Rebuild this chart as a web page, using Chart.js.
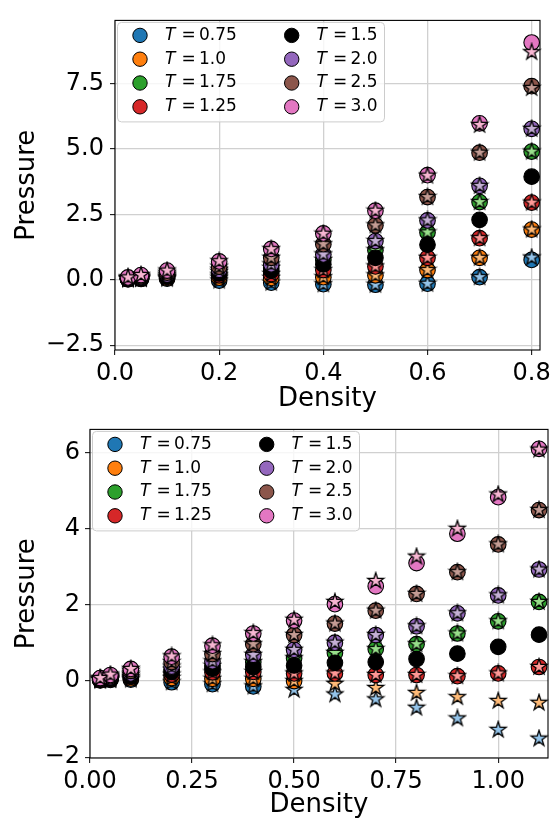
<!DOCTYPE html>
<html>
<head>
<meta charset="utf-8">
<script src="https://cdn.jsdelivr.net/npm/chart.js@4.4.1/dist/chart.umd.min.js"></script>
<style>
html, body { margin: 0; padding: 0; background: #fff; }
#wrap { position: relative; width: 557px; height: 821px; overflow: hidden; }
.pane { position: absolute; left: 0; width: 557px; }
</style>
</head>
<body>
<div id="wrap">
  <div class="pane" style="top:0;height:412px"><canvas id="grafica-superior" width="557" height="412"></canvas></div>
  <div class="pane" style="top:410px;height:411px"><canvas id="grafica-inferior" width="557" height="411"></canvas></div>
</div>
<script>
// temperatures, in the order they were plotted (legend goes column by column)
var temps = ['0.75', '1.0', '1.75', '1.25', '1.5', '2.0', '2.5', '3.0'];

// ---- upper panel ----
var topDensity = [0.025, 0.05, 0.1, 0.2, 0.3, 0.4, 0.5, 0.6, 0.7, 0.8];
// circles
var topSim075 = [0.02, 0.03, 0.04, -0.03, -0.11, -0.17, -0.19, -0.15, 0.10, 0.76];
var topSim100 = [0.025, 0.045, 0.07, 0.08, 0.07, 0.10, 0.17, 0.37, 0.84, 1.92];
var topSim175 = [0.045, 0.08, 0.16, 0.30, 0.45, 0.76, 1.13, 1.81, 2.97, 4.90];
var topSim125 = [0.03, 0.06, 0.11, 0.17, 0.22, 0.37, 0.51, 0.84, 1.59, 2.95];
var topSim150 = [0.04, 0.07, 0.13, 0.24, 0.35, 0.59, 0.84, 1.34, 2.29, 3.94];
var topSim200 = [0.05, 0.10, 0.20, 0.38, 0.59, 0.97, 1.48, 2.27, 3.59, 5.77];
var topSim250 = [0.065, 0.13, 0.27, 0.50, 0.84, 1.36, 2.08, 3.16, 4.86, 7.40];
var topSim300 = [0.09, 0.18, 0.35, 0.70, 1.18, 1.77, 2.64, 4.00, 5.98, 9.07];
// stars
var topFit075 = [0.02, 0.03, 0.04, -0.03, -0.11, -0.17, -0.19, -0.15, 0.10, 0.85];
var topFit250 = [0.065, 0.13, 0.27, 0.50, 0.84, 1.36, 2.08, 3.16, 4.86, 7.33];
var topFit300 = [0.09, 0.18, 0.35, 0.71, 1.17, 1.76, 2.64, 3.98, 5.92, 8.70];

var topXTicks = [0, 0.2, 0.4, 0.6, 0.8];
var topXLabels = ['0.0', '0.2', '0.4', '0.6', '0.8'];
var topYTicks = [-2.5, 0, 2.5, 5, 7.5];
var topYLabels = ['\u22122.5', '0.0', '2.5', '5.0', '7.5'];

// ---- lower panel ----
var botDensity = [0.025, 0.05, 0.1, 0.2, 0.3, 0.4, 0.5, 0.6, 0.7, 0.8, 0.9, 1.0, 1.1];
// circles
var botSim075 = [0.02, 0.03, 0.04, -0.03, -0.08, -0.14, null, null, null, null, null, null, null];
var botSim100 = [0.025, 0.045, 0.07, 0.08, 0.06, 0.06, 0.0, null, null, null, null, null, null];
var botSim175 = [0.045, 0.08, 0.16, 0.30, 0.40, 0.50, 0.60, 0.74, 0.84, 0.97, 1.25, 1.57, 2.08];
var botSim125 = [0.03, 0.06, 0.11, 0.17, 0.23, 0.24, 0.20, 0.20, 0.16, 0.16, 0.13, 0.20, 0.37];
var botSim150 = [0.04, 0.07, 0.13, 0.24, 0.33, 0.37, 0.41, 0.48, 0.50, 0.58, 0.72, 0.90, 1.22];
var botSim200 = [0.05, 0.10, 0.20, 0.38, 0.52, 0.69, 0.82, 1.01, 1.21, 1.44, 1.78, 2.25, 2.93];
var botSim250 = [0.065, 0.13, 0.27, 0.50, 0.71, 0.97, 1.21, 1.51, 1.85, 2.29, 2.86, 3.59, 4.49];
var botSim300 = [0.08, 0.16, 0.32, 0.64, 0.93, 1.25, 1.59, 2.02, 2.49, 3.10, 3.87, 4.83, 6.10];
// stars
var botFit075 = [0.02, 0.03, 0.04, -0.03, -0.08, -0.14, -0.23, -0.35, -0.48, -0.70, -0.98, -1.28, -1.51];
var botFit100 = [0.025, 0.045, 0.07, 0.08, 0.06, 0.06, 0.0, -0.07, -0.18, -0.31, -0.42, -0.52, -0.57];
var botFit300 = [0.08, 0.17, 0.32, 0.65, 0.94, 1.26, 1.61, 2.08, 2.63, 3.27, 4.00, 4.90, 6.08];

var botXTicks = [0, 0.25, 0.5, 0.75, 1.0];
var botXLabels = ['0.00', '0.25', '0.50', '0.75', '1.00'];
var botYTicks = [-2, 0, 2, 4, 6];
var botYLabels = ['\u22122', '0', '2', '4', '6'];

// the T = 1.5 series has no stars
var topCircles = [topSim075, topSim100, topSim175, topSim125, topSim150, topSim200, topSim250, topSim300];
var topStars   = [topFit075, topSim100, topSim175, topSim125, null, topSim200, topFit250, topFit300];
var botCircles = [botSim075, botSim100, botSim175, botSim125, botSim150, botSim200, botSim250, botSim300];
var botStars   = [botFit075, botFit100, botSim175, botSim125, null, botSim200, botSim250, botFit300];

// styles
var circleColors = ['#1f77b4', '#ff7f0e', '#2ca02c', '#d62728', '#000000', '#9467bd', '#8c564b', '#e377c2'];
var starColors   = ['#94c4ea', '#ffbb78', '#98df8a', '#ff9896', '#000000', '#c5b0d5', '#c49c94', '#f7b6d2'];
var FONT = '"DejaVu Sans", "Liberation Sans", sans-serif';

function starImage(fill) {
    var size = 20, R = 8.3, r = R * 0.382;
    var c = document.createElement('canvas');
    c.width = size; c.height = size;
    var g = c.getContext('2d');
    g.beginPath();
    for (var k = 0; k < 10; k++) {
        var rad = (k % 2) ? r : R;
        var ang = -Math.PI / 2 + k * Math.PI / 5;
        var px = size / 2 + rad * Math.cos(ang), py = size / 2 + rad * Math.sin(ang);
        if (k === 0) g.moveTo(px, py); else g.lineTo(px, py);
    }
    g.closePath();
    g.fillStyle = fill;
    g.fill();
    g.lineWidth = 1.3;
    g.strokeStyle = '#000';
    g.stroke();
    return c;
}

function puntos(xs, ys) {
    var out = [];
    for (var i = 0; i < xs.length; i++) {
        if (ys[i] !== null) out.push({x: xs[i], y: ys[i]});
    }
    return out;
}

// black frame round the plot area
var marcoPlugin = {
    id: 'marco',
    afterDatasetsDraw: function(chart) {
        var a = chart.chartArea, ctx = chart.ctx;
        ctx.save();
        ctx.strokeStyle = '#000';
        ctx.lineWidth = 1.1;
        ctx.strokeRect(a.left, a.top, a.right - a.left, a.bottom - a.top);
        ctx.restore();
    }
};

// two-column legend drawn inside the plot, upper left
var leyendaPlugin = {
    id: 'leyenda',
    afterDraw: function(chart) {
        var a = chart.chartArea, ctx = chart.ctx;
        var x0 = a.left + 2.5, y0 = a.top + 2;
        ctx.save();
        ctx.beginPath();
        ctx.roundRect(x0, y0, 267, 99.5, 4);
        ctx.fillStyle = 'rgba(255,255,255,0.8)';
        ctx.fill();
        ctx.strokeStyle = '#cccccc';
        ctx.lineWidth = 1;
        ctx.stroke();
        ctx.textBaseline = 'middle';
        ctx.textAlign = 'left';
        for (var i = 0; i < temps.length; i++) {
            var col = Math.floor(i / 4), row = i % 4;
            var mx = a.left + 25 + col * 151.7;
            var my = y0 + 13 + row * 23.8;
            ctx.beginPath();
            ctx.arc(mx, my, 7.2, 0, Math.PI * 2);
            ctx.fillStyle = circleColors[i];
            ctx.fill();
            ctx.strokeStyle = '#000';
            ctx.lineWidth = 1;
            ctx.stroke();
            var tx = a.left + 50 + col * 151.5;
            ctx.fillStyle = '#000';
            ctx.font = 'italic 17px ' + FONT;
            ctx.fillText('T', tx, my);
            ctx.font = '17px ' + FONT;
            ctx.fillText('=', tx + 16.5, my);
            ctx.fillText(temps[i], tx + 34, my);
        }
        ctx.restore();
    }
};

function grafica(id, cfg) {
    var datasets = [];
    var k = 0;
    for (var i = 0; i < temps.length; i++) {
        datasets.push({
            label: 'T = ' + temps[i],
            data: puntos(cfg.density, cfg.circles[i]),
            pointStyle: 'circle',
            pointRadius: 7.8,
            pointHoverRadius: 7.8,
            pointBackgroundColor: circleColors[i],
            pointBorderColor: '#000',
            pointBorderWidth: 1.1,
            order: 100 - (k++),
            clip: false
        });
        if (cfg.stars[i]) {
            datasets.push({
                label: 'T = ' + temps[i] + ' (star)',
                data: puntos(cfg.density, cfg.stars[i]),
                pointStyle: starImage(starColors[i]),
                pointRadius: 8,
                pointHoverRadius: 8,
                order: 100 - (k++),
                clip: false
            });
        }
    }

    var ctx = document.getElementById(id).getContext('2d');
    return new Chart(ctx, {
        type: 'scatter',
        data: {datasets: datasets},
        plugins: [marcoPlugin, leyendaPlugin],
        options: {
            responsive: false,
            animation: false,
            events: [],
            layout: {padding: {top: cfg.padTop, right: cfg.padRight, left: 0, bottom: 0}},
            plugins: {legend: {display: false}, tooltip: {enabled: false}},
            scales: {
                x: {
                    type: 'linear',
                    min: cfg.xMin, max: cfg.xMax,
                    afterFit: function(s) { s.height = cfg.xAxisH; },
                    afterBuildTicks: function(s) { s.ticks = cfg.xTicks.map(function(v) { return {value: v}; }); },
                    ticks: {
                        autoSkip: false, maxRotation: 0, minRotation: 0, padding: 4, color: '#000',
                        font: {family: FONT, size: 24},
                        callback: function(v, i) { return cfg.xLabels[i]; }
                    },
                    grid: {color: '#d0d0d0', lineWidth: 1.3, tickColor: '#000', tickLength: 5, tickWidth: 1},
                    border: {display: false},
                    title: {
                        display: true, text: 'Density', color: '#000',
                        font: {family: FONT, size: 26, lineHeight: 1},
                        padding: {top: 0, bottom: cfg.xTitlePad}
                    }
                },
                y: {
                    type: 'linear',
                    min: cfg.yMin, max: cfg.yMax,
                    afterFit: function(s) { s.width = cfg.yAxisW; },
                    afterBuildTicks: function(s) { s.ticks = cfg.yTicks.map(function(v) { return {value: v}; }); },
                    ticks: {
                        autoSkip: false, padding: cfg.yTickPad, color: '#000',
                        font: {family: FONT, size: 24},
                        callback: function(v, i) { return cfg.yLabels[i]; }
                    },
                    grid: {color: '#d0d0d0', lineWidth: 1.3, tickColor: '#000', tickLength: 5, tickWidth: 1},
                    border: {display: false},
                    title: {
                        display: true, text: 'Pressure', color: '#000',
                        font: {family: FONT, size: 26, lineHeight: 1},
                        padding: {top: 14, bottom: 0}
                    }
                }
            }
        }
    });
}

grafica('grafica-superior', {
    density: topDensity, circles: topCircles, stars: topStars,
    xMin: 0, xMax: 0.816, yMin: -2.685, yMax: 9.915,
    xTicks: topXTicks, xLabels: topXLabels, yTicks: topYTicks, yLabels: topYLabels,
    padTop: 11, padRight: 17, yAxisW: 115, xAxisH: 62, xTitlePad: 0, yTickPad: 6
});

grafica('grafica-inferior', {
    density: botDensity, circles: botCircles, stars: botStars,
    xMin: 0, xMax: 1.122, yMin: -2.02, yMax: 6.61,
    xTicks: botXTicks, xLabels: botXLabels, yTicks: botYTicks, yLabels: botYLabels,
    padTop: 10, padRight: 5, yAxisW: 90, xAxisH: 63, xTitlePad: 3, yTickPad: 5
});
</script>
</body>
</html>
